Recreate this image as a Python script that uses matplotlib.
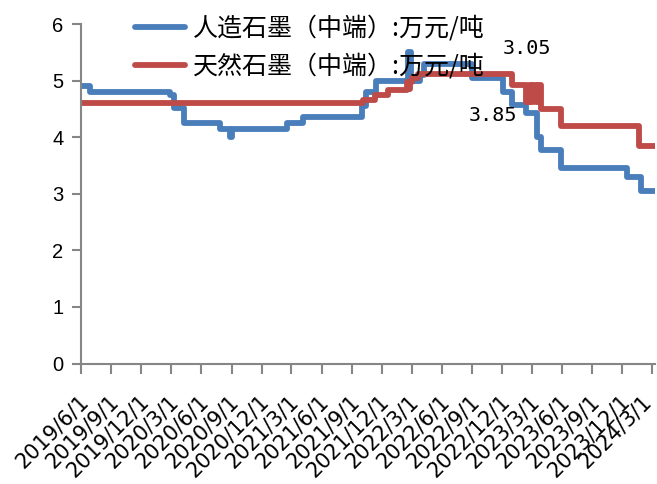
import pandas as pd
import matplotlib.pyplot as plt
from matplotlib.transforms import ScaledTranslation

# 人造石墨（中端）price, step changes (万元/吨)
art_dates = ['2019-06-01', '2019-06-29', '2020-02-28', '2020-03-10', '2020-04-10',
             '2020-07-27', '2020-08-26', '2020-09-03', '2021-02-17', '2021-04-06',
             '2021-10-02', '2021-10-15', '2021-11-14', '2022-02-19', '2022-02-27',
             '2022-03-26', '2022-04-08', '2022-09-01', '2022-12-04', '2022-12-30',
             '2023-02-10', '2023-03-16', '2023-03-28', '2023-05-30', '2023-12-14',
             '2024-01-25', '2024-03-09']
art_price = [4.90, 4.80, 4.75, 4.52, 4.25,
             4.15, 4.00, 4.15, 4.25, 4.35,
             4.55, 4.80, 5.00, 5.50, 5.00,
             5.10, 5.30, 5.05, 4.80, 4.57,
             4.42, 4.00, 3.77, 3.45, 3.30,
             3.05, 3.05]

# 天然石墨（中端）price, step changes (万元/吨)
nat_dates = ['2019-06-01', '2021-10-05', '2021-11-11', '2021-12-20', '2022-02-16',
             '2022-02-20', '2022-02-24', '2022-03-02', '2022-03-20', '2022-12-30',
             '2023-02-13', '2023-02-20', '2023-02-27', '2023-03-06', '2023-03-13',
             '2023-03-20', '2023-03-28', '2023-05-28', '2024-01-19', '2024-03-09']
nat_price = [4.60, 4.65, 4.74, 4.83, 4.98,
             4.85, 4.98, 5.05, 5.12, 4.92,
             4.62, 4.92, 4.62, 4.92, 4.62,
             4.92, 4.50, 4.20, 3.85, 3.85]

tick_dates = pd.date_range('2019-06-01', '2024-03-01', freq='3MS')
tick_labels = [f'{d.year}/{d.month}/{d.day}' for d in tick_dates]

blue = '#4A7EBB'
red = '#BE4B48'
grey = '#868686'

fig = plt.figure(figsize=(6.57, 4.84), dpi=100)
ax = fig.add_axes([80.7 / 657, 1 - 363.5 / 484, (655 - 80.7) / 657, (363.5 - 24) / 484])

ax.step(pd.to_datetime(art_dates), art_price, where='post', color=blue, lw=4.2,
        solid_joinstyle='round', solid_capstyle='round', label='人造石墨（中端）:万元/吨')
ax.step(pd.to_datetime(nat_dates), nat_price, where='post', color=red, lw=4.2,
        solid_joinstyle='round', solid_capstyle='round', label='天然石墨（中端）:万元/吨')

ax.set_xlim(pd.Timestamp('2019-06-01'), pd.Timestamp('2024-03-09'))
ax.set_ylim(0, 6)

for side in ['top', 'right']:
    ax.spines[side].set_visible(False)
for side in ['left', 'bottom']:
    ax.spines[side].set_color(grey)
    ax.spines[side].set_linewidth(1.5)
ax.tick_params(axis='x', direction='out', length=7, width=1.5, color=grey, pad=13)
ax.tick_params(axis='y', direction='out', length=6.5, width=1.5, color=grey, pad=6)

ax.set_xticks(tick_dates)
ax.set_xticklabels(tick_labels, rotation=45, ha='right', rotation_mode='anchor',
                   fontsize=15, family='DejaVu Sans')
labels = ax.get_xticklabels()
for i, lab in enumerate(labels):
    # last label nudged a little further so it stays inside the figure
    dx = -8 if i == len(labels) - 1 else -2
    lab.set_transform(lab.get_transform() + ScaledTranslation(dx / 72, 0, fig.dpi_scale_trans))
ax.set_yticks(range(0, 7))
ax.set_yticklabels([str(v) for v in range(0, 7)], fontsize=14.5, family='Liberation Sans')

# value labels
ax.text(pd.Timestamp('2023-02-15'), 5.56, '3.05', fontsize=14.5, family='DejaVu Sans Mono',
        ha='center', va='center')
ax.text(pd.Timestamp('2022-11-02'), 4.39, '3.85', fontsize=14.5, family='DejaVu Sans Mono',
        ha='center', va='center')

leg = ax.legend(loc='upper left', bbox_to_anchor=(135 / 657, 1 - 16 / 484),
                bbox_transform=fig.transFigure, frameon=False, borderpad=0,
                borderaxespad=0, handlelength=2.0, handletextpad=0.33,
                labelspacing=0.45, prop={'family': ['Noto Sans CJK SC', 'DejaVu Sans'],
                                         'size': 18})
for h in leg.get_lines():
    h.set_solid_capstyle('round')

fig.savefig('out.png', dpi=100)
